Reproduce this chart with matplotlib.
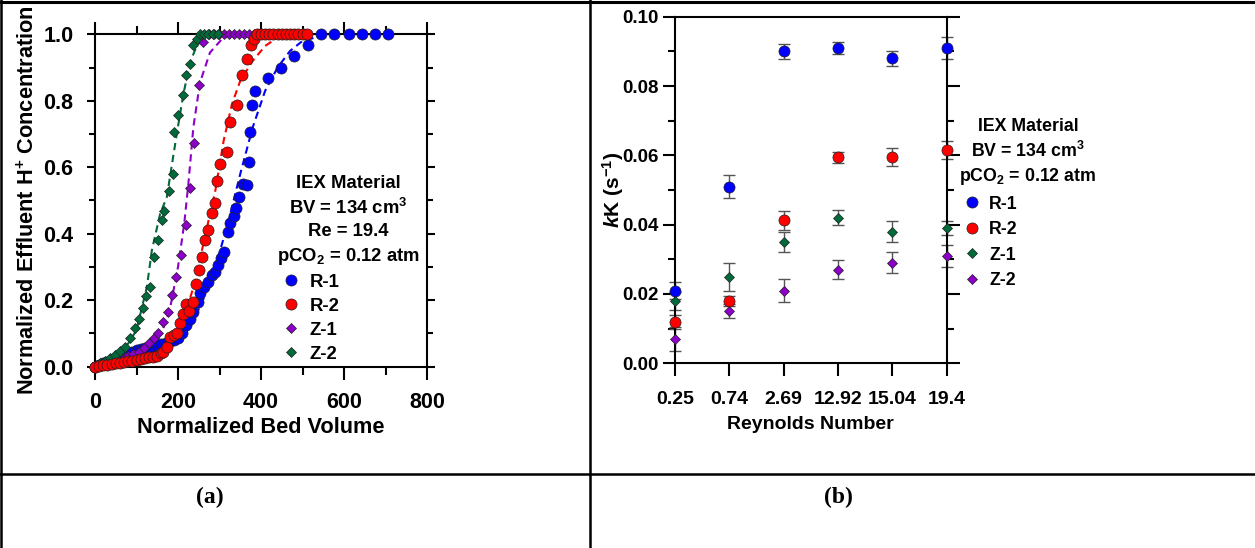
import matplotlib
matplotlib.use("Agg")
import matplotlib.pyplot as plt
from matplotlib.lines import Line2D
from matplotlib.ticker import MultipleLocator, FormatStrFormatter

plt.rcParams['font.family'] = ['Liberation Sans', 'DejaVu Sans']
plt.rcParams['font.weight'] = 'bold'
plt.rcParams['mathtext.fontset'] = 'custom'
plt.rcParams['mathtext.rm'] = 'Liberation Sans:bold'
plt.rcParams['mathtext.bf'] = 'Liberation Sans:bold'
plt.rcParams['mathtext.it'] = 'Liberation Sans:bold:italic'
plt.rcParams['mathtext.default'] = 'rm'

# ---- panel (a): breakthrough curves ----
r1_x = [0, 10, 20, 30, 40, 50, 60, 70, 80, 90, 100, 110, 120, 130, 140, 150, 160, 170, 180, 190,
        200, 210, 220, 229, 237, 247, 253, 263, 273, 281, 289, 297, 303, 312, 320, 326, 334, 339,
        346, 356, 366, 370, 374, 379, 386, 416, 449, 480, 514, 545, 577, 611, 643, 675, 707]
r1_y = [0, 0.005, 0.01, 0.015, 0.02, 0.025, 0.03, 0.035, 0.04, 0.045, 0.05, 0.052, 0.055, 0.058,
        0.06, 0.065, 0.068, 0.072, 0.076, 0.08, 0.085, 0.1, 0.125, 0.145, 0.165, 0.196, 0.221,
        0.241, 0.256, 0.276, 0.286, 0.306, 0.326, 0.346, 0.406, 0.433, 0.453, 0.476, 0.512, 0.549,
        0.547, 0.615, 0.707, 0.787, 0.828, 0.868, 0.90, 0.936, 0.968, 1.0, 1.0, 1.0, 1.0, 1.0, 1.0]

r2_x = [0, 10, 20, 30, 40, 50, 60, 70, 80, 90, 100, 110, 120, 130, 140, 149, 158, 165, 174, 181,
        190, 197, 205, 211, 219, 227, 235, 243, 251, 257, 265, 273, 281, 289, 295, 301, 318, 326,
        342, 354, 366, 377, 382, 390, 400, 410, 420, 430, 440, 450, 460, 470, 480, 490, 500, 510]
r2_y = [0, 0.002, 0.004, 0.006, 0.008, 0.01, 0.012, 0.014, 0.016, 0.018, 0.02, 0.022, 0.025,
        0.028, 0.03, 0.032, 0.04, 0.045, 0.06, 0.09, 0.095, 0.10, 0.13, 0.16, 0.19, 0.168, 0.196,
        0.249, 0.291, 0.329, 0.381, 0.411, 0.461, 0.491, 0.56, 0.61, 0.645, 0.737, 0.787, 0.878,
        0.926, 0.968, 0.985, 1.0, 1.0, 1.0, 1.0, 1.0, 1.0, 1.0, 1.0, 1.0, 1.0, 1.0, 1.0, 1.0]

z1_x = [0, 8, 16, 24, 32, 40, 48, 56, 64, 72, 80, 92, 105, 117, 129, 141, 153, 165, 175, 185,
        195, 207, 219, 229, 239, 251, 261, 275, 287, 299, 311, 323, 335, 347, 359, 371, 383]
z1_y = [0, 0.003, 0.006, 0.009, 0.012, 0.015, 0.018, 0.021, 0.025, 0.029, 0.033, 0.037, 0.045,
        0.055, 0.07, 0.085, 0.10, 0.135, 0.165, 0.216, 0.269, 0.336, 0.426, 0.537, 0.674, 0.848,
        0.978, 1.0, 1.0, 1.0, 1.0, 1.0, 1.0, 1.0, 1.0, 1.0, 1.0]

z2_x = [0, 4, 12, 24, 36, 48, 60, 72, 84, 96, 107, 115, 122, 133, 141, 151, 161, 167, 178, 187,
        191, 201, 211, 219, 229, 237, 245, 253, 263, 273, 285, 297]
z2_y = [0, 0.005, 0.01, 0.018, 0.025, 0.035, 0.048, 0.06, 0.085, 0.115, 0.142, 0.176, 0.214,
        0.241, 0.331, 0.381, 0.441, 0.469, 0.529, 0.579, 0.707, 0.757, 0.817, 0.878, 0.91, 0.968,
        0.985, 1.0, 1.0, 1.0, 1.0, 1.0]

# fitted curves (dashed)
r1_fit_x = [0, 50, 100, 150, 200, 230, 260, 290, 320, 350, 380, 410, 440, 470, 500, 530, 560]
r1_fit_y = [0, 0.005, 0.015, 0.035, 0.075, 0.12, 0.2, 0.3, 0.43, 0.58, 0.72, 0.83, 0.9, 0.95,
            0.98, 0.99, 1.0]
r2_fit_x = [0, 50, 100, 150, 180, 210, 240, 270, 290, 310, 330, 350, 380, 410, 440, 470, 500]
r2_fit_y = [0, 0.003, 0.01, 0.03, 0.06, 0.13, 0.25, 0.42, 0.53, 0.68, 0.79, 0.86, 0.92, 0.965,
            0.99, 0.998, 1.0]
z1_fit_x = [0, 50, 100, 130, 160, 180, 200, 215, 225, 237, 253, 277, 309, 340]
z1_fit_y = [0, 0.005, 0.02, 0.05, 0.1, 0.17, 0.3, 0.43, 0.55, 0.72, 0.855, 0.945, 0.99, 1.0]
z2_fit_x = [0, 40, 70, 100, 125, 137, 157, 173, 197, 213, 229, 245, 265, 300]
z2_fit_y = [0, 0.02, 0.05, 0.11, 0.24, 0.35, 0.46, 0.51, 0.70, 0.82, 0.915, 0.965, 0.995, 1.0]

# ---- panel (b): kK vs Reynolds number ----
re_labels = ['0.25', '0.74', '2.69', '12.92', '15.04', '19.4']
kk_r1 = [0.021, 0.051, 0.090, 0.091, 0.088, 0.091]
kk_r1_err = [0.0025, 0.0032, 0.0022, 0.0017, 0.0021, 0.0032]
kk_r2 = [0.012, 0.018, 0.0413, 0.0594, 0.0594, 0.0614]
kk_r2_err = [0.002, 0.0015, 0.0027, 0.0017, 0.0026, 0.0026]
kk_z1 = [0.018, 0.025, 0.035, 0.042, 0.038, 0.039]
kk_z1_err = [0.0025, 0.004, 0.003, 0.0022, 0.003, 0.002]
kk_z2 = [0.007, 0.015, 0.021, 0.027, 0.029, 0.031]
kk_z2_err = [0.0035, 0.002, 0.0033, 0.0027, 0.003, 0.0032]

BLUE = '#0000ff'
RED = '#ff0000'
PURPLE = '#8c00c8'
GREEN = '#006a3a'
EDGE = '#222222'

W, H = 1255, 548
fig = plt.figure(figsize=(W / 100, H / 100), dpi=100)


def fx(px):
    return px / W


def fy(py):
    return 1 - py / H


# table lines
lw_tab = 1.8
fig.add_artist(Line2D([0, 1], [fy(2), fy(2)], color='black', lw=2.2))
fig.add_artist(Line2D([0, 1], [fy(474), fy(474)], color='black', lw=lw_tab))
fig.add_artist(Line2D([fx(1), fx(1)], [0, 1], color='black', lw=lw_tab))
fig.add_artist(Line2D([fx(589.5), fx(589.5)], [0, 1], color='black', lw=lw_tab))

fig.text(fx(210), fy(497), '(a)', ha='center', va='center', fontsize=17,
         family='Liberation Serif', weight='bold')
fig.text(fx(838), fy(497), '(b)', ha='center', va='center', fontsize=17,
         family='Liberation Serif', weight='bold')


def style_axes(ax):
    for s in ax.spines.values():
        s.set_linewidth(1.5)
    ax.tick_params(which='both', direction='out', width=1.5, labelsize=15.5)


# panel (a)
ax1 = fig.add_axes([fx(95), fy(366.7), fx(427) - fx(95), fy(34.3) - fy(366.7)])
style_axes(ax1)
ax1.set_xlim(0, 800)
ax1.set_ylim(0, 1)
ax1.xaxis.set_major_locator(MultipleLocator(200))
ax1.xaxis.set_minor_locator(MultipleLocator(100))
ax1.yaxis.set_major_locator(MultipleLocator(0.2))
ax1.yaxis.set_minor_locator(MultipleLocator(0.1))
ax1.yaxis.set_major_formatter(FormatStrFormatter('%.1f'))
ax1.tick_params(axis='x', which='major', length=9, pad=9, top=True)
ax1.tick_params(axis='x', which='minor', length=5.5, top=True)
ax1.tick_params(axis='y', which='major', length=5.5, pad=10, right=True)
ax1.tick_params(axis='y', which='minor', length=4, right=True)

dash = (3.5, 2.3)
ax1.plot(r1_fit_x, r1_fit_y, color=BLUE, lw=1.5, dashes=dash, zorder=2)
ax1.plot(r2_fit_x, r2_fit_y, color=RED, lw=1.5, dashes=dash, zorder=2)
ax1.plot(z1_fit_x, z1_fit_y, color=PURPLE, lw=1.5, dashes=dash, zorder=2)
ax1.plot(z2_fit_x, z2_fit_y, color=GREEN, lw=1.5, dashes=dash, zorder=2)

mk = dict(ls='none', mec=EDGE, mew=0.5, clip_on=False, zorder=3)
ax1.plot(r1_x, r1_y, 'o', color=BLUE, ms=8, label='R-1', **mk)
ax1.plot(z1_x, z1_y, 'D', color=PURPLE, ms=5, label='Z-1', **mk)
ax1.plot(z2_x, z2_y, 'D', color=GREEN, ms=5, label='Z-2', **mk)
ax1.plot(r2_x, r2_y, 'o', color=RED, ms=8, label='R-2', **mk)

ax1.set_xlabel('Normalized Bed Volume', fontsize=15.7, weight='bold', labelpad=3)
ax1.set_ylabel('Normalized Effluent H$^{+}$ Concentration', fontsize=15.7, weight='bold',
               labelpad=3)

handles_a = [
    Line2D([], [], ls='none', marker='o', color=BLUE, mec=EDGE, mew=0.5, ms=8),
    Line2D([], [], ls='none', marker='o', color=RED, mec=EDGE, mew=0.5, ms=8),
    Line2D([], [], ls='none', marker='D', color=PURPLE, mec=EDGE, mew=0.5, ms=5),
    Line2D([], [], ls='none', marker='D', color=GREEN, mec=EDGE, mew=0.5, ms=5),
]
leg_a = ax1.legend(handles_a, ['R-1', 'R-2', 'Z-1', 'Z-2'],
                   title='IEX Material\nBV = 134 cm$^3$\nRe = 19.4\npCO$_2$ = 0.12 atm',
                   loc='upper center', bbox_to_anchor=(fx(348), fy(175)),
                   bbox_transform=fig.transFigure, frameon=False,
                   prop=dict(size=13.3, weight='bold'), handlelength=1.55, handletextpad=0.25,
                   labelspacing=0.38, borderpad=0, borderaxespad=0)
leg_a.get_title().set_fontsize(13.3)
leg_a.get_title().set_fontweight('bold')
leg_a.get_title().set_multialignment('center')
leg_a.get_title().set_linespacing(1.38)
leg_a._legend_box.align = 'left'

# panel (b)
ax2 = fig.add_axes([fx(675), fy(363.3), fx(946.7) - fx(675), fy(16.7) - fy(363.3)])
style_axes(ax2)
ax2.set_xlim(0, len(re_labels) - 1)
ax2.set_ylim(0, 0.10)
pos = list(range(len(re_labels)))
ax2.set_xticks(pos)
ax2.set_xticklabels(re_labels)
ax2.yaxis.set_major_locator(MultipleLocator(0.02))
ax2.yaxis.set_minor_locator(MultipleLocator(0.01))
ax2.yaxis.set_major_formatter(FormatStrFormatter('%.2f'))
ax2.tick_params(axis='x', which='major', length=9, pad=11, labelsize=14)
ax2.tick_params(axis='y', which='major', length=9, pad=3, right=True, labelsize=13.5)
ax2.tick_params(axis='y', which='minor', length=5, right=True)

eb = dict(fmt='none', ecolor='#555555', elinewidth=1.0, capsize=4.5, capthick=1.0,
          clip_on=False, zorder=2)
ax2.errorbar(pos, kk_r1, yerr=kk_r1_err, **eb)
ax2.errorbar(pos, kk_r2, yerr=kk_r2_err, **eb)
ax2.errorbar(pos, kk_z1, yerr=kk_z1_err, **eb)
ax2.errorbar(pos, kk_z2, yerr=kk_z2_err, **eb)
ax2.plot(pos, kk_r1, 'o', color=BLUE, ms=8, **mk)
ax2.plot(pos, kk_r2, 'o', color=RED, ms=8, **mk)
ax2.plot(pos, kk_z1, 'D', color=GREEN, ms=5, **mk)
ax2.plot(pos, kk_z2, 'D', color=PURPLE, ms=5, **mk)

ax2.set_xlabel('Reynolds Number', fontsize=14, weight='bold', labelpad=6)
ax2.set_ylabel(r'$\mathit{k}$K (s$^{-1}$)', fontsize=15, weight='bold', labelpad=-3)

handles_b = [
    Line2D([], [], ls='none', marker='o', color=BLUE, mec=EDGE, mew=0.5, ms=8),
    Line2D([], [], ls='none', marker='o', color=RED, mec=EDGE, mew=0.5, ms=8),
    Line2D([], [], ls='none', marker='D', color=GREEN, mec=EDGE, mew=0.5, ms=5),
    Line2D([], [], ls='none', marker='D', color=PURPLE, mec=EDGE, mew=0.5, ms=5),
]
leg_b = ax2.legend(handles_b, ['R-1', 'R-2', 'Z-1', 'Z-2'],
                   title='IEX Material\nBV = 134 cm$^3$\npCO$_2$ = 0.12 atm',
                   loc='upper center', bbox_to_anchor=(fx(1028), fy(118)),
                   bbox_transform=fig.transFigure, frameon=False,
                   prop=dict(size=12.8, weight='bold'), handlelength=1.38, handletextpad=0.3,
                   labelspacing=0.48, borderpad=0, borderaxespad=0)
leg_b.get_title().set_fontsize(12.8)
leg_b.get_title().set_fontweight('bold')
leg_b.get_title().set_multialignment('center')
leg_b.get_title().set_linespacing(1.35)
leg_b._legend_box.align = 'left'

fig.savefig('out.png', dpi=100)
